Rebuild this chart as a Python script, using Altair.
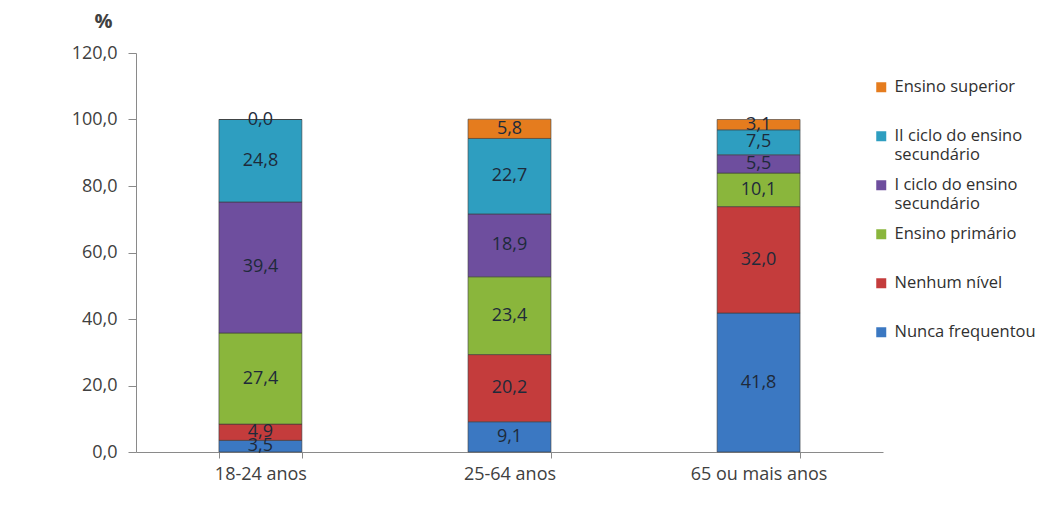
import altair as alt
import pandas as pd

groups = ["18-24 anos", "25-64 anos", "65 ou mais anos"]
legend_labels = ["Nunca frequentou", "Nenhum nível", "Ensino primário",
                 "I ciclo do ensino|secundário", "II ciclo do ensino|secundário", "Ensino superior"]
colors = ["#3B78C2", "#C43C3C", "#8AB63C", "#6E4E9E", "#2E9EC0", "#E57C1E"]

v_18_24 = [3.5, 4.9, 27.4, 39.4, 24.8, 0.0]
v_25_64 = [9.1, 20.2, 23.4, 18.9, 22.7, 5.8]
v_65 = [41.8, 32.0, 10.1, 5.5, 7.5, 3.1]

rows = []
for g, vals in zip(groups, [v_18_24, v_25_64, v_65]):
    for i, (lv, v) in enumerate(zip(legend_labels, vals)):
        rows.append({"grupo": g, "nivel": lv, "idx": i, "valor": v})
df = pd.DataFrame(rows)

dom = legend_labels[::-1]
rng = colors[::-1]

base = alt.Chart(df).transform_stack(
    stack="valor", groupby=["grupo"], as_=["y0", "y1"],
    sort=[alt.SortField("idx", order="ascending")]
).transform_calculate(
    mid="(datum.y0 + datum.y1) / 2",
    lab="replace(format(datum.valor, '.1f'), '.', ',')"
)

xenc = alt.X("grupo:N", sort=groups, title=None,
             scale=alt.Scale(paddingInner=0.667, paddingOuter=0.333),
             axis=alt.Axis(labelAngle=0, tickBand="extent", tickSize=6, labelPadding=7,
                           labelFontSize=18, labelColor="#404040", labelFont="Open Sans",
                           domainColor="#8a8a8a", tickColor="#8a8a8a"))

bars = base.mark_bar(stroke="#3a3a3a", strokeWidth=0.6).encode(
    x=xenc,
    y=alt.Y("y0:Q", scale=alt.Scale(domain=[0, 120]), title="%",
            axis=alt.Axis(values=[0, 20, 40, 60, 80, 100, 120], grid=False,
                          labelExpr="replace(format(datum.value, '.1f'), '.', ',')",
                          tickSize=8, labelPadding=11, labelFontSize=18,
                          labelColor="#404040", labelFont="Open Sans",
                          domainColor="#8a8a8a", tickColor="#8a8a8a",
                          titleAngle=0, titleX=-33, titleY=-32, titleAlign="center",
                          titleBaseline="middle", titleFontSize=20, titleFont="Open Sans",
                          titleFontWeight="bold", titleColor="#404040")),
    y2="y1:Q",
    color=alt.Color("nivel:N", scale=alt.Scale(domain=dom, range=rng),
                    legend=alt.Legend(title=None, orient="none", legendX=737, legendY=26,
                                      symbolType="square", symbolSize=100,
                                      symbolStrokeWidth=0, labelFontSize=16.5,
                                      labelFont="Open Sans", labelColor="#303030",
                                      labelExpr="split(datum.label, '|')",
                                      gridAlign="all",
                                      rowPadding=13, labelLimit=250, labelOffset=5)),
)

texts = base.mark_text(fontSize=18, font="Open Sans", color="#1e2a3a").encode(
    x=alt.X("grupo:N", sort=groups),
    y=alt.Y("mid:Q"),
    text="lab:N",
)

chart = alt.layer(bars, texts).properties(
    width=747, height=399,
    padding={"left": 128, "top": 45, "right": 160, "bottom": 62},
    autosize=alt.AutoSizeParams(type="none"),
    background="white",
).configure_view(stroke=None)

chart.save("out.html", embed_options={"renderer": "svg", "actions": False})
